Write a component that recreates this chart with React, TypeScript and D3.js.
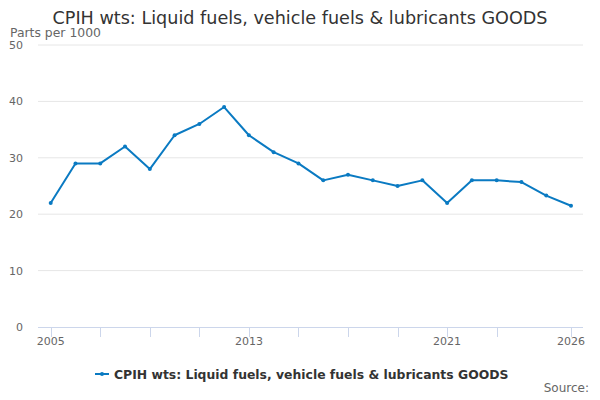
import { useEffect, useRef } from 'react';
import * as d3 from 'd3';

const years = d3.range(2005, 2027);
const values = [22, 29, 29, 32, 28, 34, 36, 39, 34, 31, 29, 26, 27, 26, 25, 26, 22, 26, 26, 25.7, 23.3, 21.5];
const yTicks = [0, 10, 20, 30, 40, 50];
const xTickYears = [2005, 2007, 2009, 2011, 2013, 2015, 2017, 2019, 2021, 2023, 2026];
const xLabelYears = [2005, 2013, 2021, 2026];

const title = 'CPIH wts: Liquid fuels, vehicle fuels & lubricants GOODS';
const seriesName = 'CPIH wts: Liquid fuels, vehicle fuels & lubricants GOODS';

const width = 600;
const height = 400;
const lineColor = '#0a7ac2';
const font = '"DejaVu Sans", sans-serif';

const Chart = () => {
  const svgRef = useRef<SVGSVGElement>(null);

  useEffect(() => {
    if (!svgRef.current) return;
    const svg = d3.select(svgRef.current);
    svg.selectAll('*').remove();

    const margin = { top: 45, right: 17, bottom: 73, left: 38 };
    const innerWidth = width - margin.left - margin.right;
    const innerHeight = height - margin.top - margin.bottom;

    const x = d3.scaleLinear()
      .domain([2005, 2026])
      .range([12.7, 533]);

    const y = d3.scaleLinear()
      .domain([0, 50])
      .range([innerHeight, 0]);

    svg.append('rect').attr('width', width).attr('height', height).attr('fill', '#ffffff');

    // Title
    svg.append('text')
      .attr('x', width / 2)
      .attr('y', 24)
      .attr('text-anchor', 'middle')
      .attr('font-family', font)
      .attr('font-size', 17.6)
      .attr('fill', '#333333')
      .text(title);

    svg.append('text')
      .attr('x', 10)
      .attr('y', 36.5)
      .attr('font-family', font)
      .attr('font-size', 12.4)
      .attr('fill', '#666666')
      .text('Parts per 1000');

    const g = svg.append('g')
      .attr('transform', `translate(${margin.left},${margin.top})`);

    // Grid lines
    g.selectAll('line.grid')
      .data(yTicks.filter(d => d !== 0))
      .enter().append('line')
      .attr('class', 'grid')
      .attr('x1', 0)
      .attr('x2', innerWidth)
      .attr('y1', d => y(d))
      .attr('y2', d => y(d))
      .attr('stroke', '#e6e6e6')
      .attr('stroke-width', 1);

    // Y labels
    g.selectAll('text.ylab')
      .data(yTicks)
      .enter().append('text')
      .attr('class', 'ylab')
      .attr('x', -15)
      .attr('y', d => y(d) + 4)
      .attr('text-anchor', 'end')
      .attr('font-family', font)
      .attr('font-size', 11)
      .attr('fill', '#666666')
      .text(d => d);

    // X axis
    g.append('line')
      .attr('x1', 0)
      .attr('x2', innerWidth)
      .attr('y1', innerHeight + 0.5)
      .attr('y2', innerHeight + 0.5)
      .attr('stroke', '#ccd6eb');

    g.selectAll('line.xtick')
      .data(xTickYears)
      .enter().append('line')
      .attr('class', 'xtick')
      .attr('x1', d => Math.round(x(d)) + 0.5)
      .attr('x2', d => Math.round(x(d)) + 0.5)
      .attr('y1', innerHeight)
      .attr('y2', innerHeight + 10)
      .attr('stroke', '#ccd6eb');

    g.selectAll('text.xlab')
      .data(xLabelYears)
      .enter().append('text')
      .attr('class', 'xlab')
      .attr('x', d => x(d))
      .attr('y', innerHeight + 18)
      .attr('text-anchor', 'middle')
      .attr('font-family', font)
      .attr('font-size', 11)
      .attr('fill', '#666666')
      .text(d => d);

    // Line
    const line = d3.line<number>()
      .x((_, i) => x(years[i]))
      .y(d => y(d));

    g.append('path')
      .datum(values)
      .attr('d', line)
      .attr('fill', 'none')
      .attr('stroke', lineColor)
      .attr('stroke-width', 2)
      .attr('stroke-linejoin', 'round');

    g.selectAll('circle.pt')
      .data(values)
      .enter().append('circle')
      .attr('class', 'pt')
      .attr('cx', (_, i) => x(years[i]))
      .attr('cy', d => y(d))
      .attr('r', 2)
      .attr('fill', lineColor);

    // Legend
    const legend = svg.append('g').attr('transform', 'translate(95,374)');
    legend.append('line')
      .attr('x1', 0).attr('x2', 14)
      .attr('y1', 0).attr('y2', 0)
      .attr('stroke', lineColor)
      .attr('stroke-width', 2);
    legend.append('circle')
      .attr('cx', 7).attr('cy', 0).attr('r', 2).attr('fill', lineColor);
    legend.append('text')
      .attr('x', 19)
      .attr('y', 4.5)
      .attr('font-family', font)
      .attr('font-size', 12.4)
      .attr('font-weight', 'bold')
      .attr('fill', '#333333')
      .text(seriesName);

    svg.append('text')
      .attr('x', 589)
      .attr('y', 392)
      .attr('text-anchor', 'end')
      .attr('font-family', font)
      .attr('font-size', 12)
      .attr('fill', '#666666')
      .text('Source:');
  }, []);

  return <svg ref={svgRef} width={width} height={height} style={{ display: 'block' }} />;
};

export default function App() {
  return (
    <div style={{ margin: -8 }}>
      <Chart />
    </div>
  );
}
